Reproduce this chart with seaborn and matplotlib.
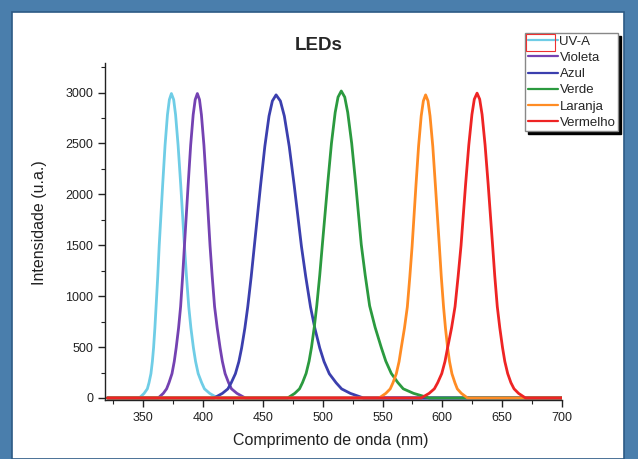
import pandas as pd
import seaborn as sns
import matplotlib.pyplot as plt
from matplotlib.patches import Rectangle
from matplotlib.ticker import MultipleLocator

# spectra (wavelength nm, intensity a.u.)
uva_nm = [320, 346.7, 350.7, 353.4, 354.8, 356.4, 357.6, 358.6, 359.7, 360.7, 362.1, 363.3, 366.2, 368.2, 370.2, 371.8, 373.5,
          375.4, 377.0, 379.1, 381.3, 384.4, 386.1, 388.0, 389.8, 391.9, 393.7, 395.9, 398.8, 401.1, 405.5, 412.1, 700]
uva_int = [0, 0, 45, 90, 150, 239, 359, 493, 688, 897, 1196, 1495, 2093, 2482, 2781, 2930, 2990,
           2930, 2781, 2482, 2093, 1495, 1196, 897, 688, 493, 359, 239, 150, 90, 45, 0, 0]

violeta_nm = [320, 362.5, 366.7, 369.5, 371.5, 374.0, 375.9, 377.5, 379.5, 381.2, 382.9, 384.4, 387.5, 389.6, 391.7, 393.4, 395.2,
              397.0, 398.6, 400.7, 402.8, 405.8, 407.6, 409.6, 411.8, 414.2, 416.1, 418.4, 421.3, 423.7, 428.3, 435.2, 700]
violeta_int = [0, 0, 45, 90, 150, 239, 359, 493, 688, 897, 1196, 1495, 2093, 2482, 2781, 2930, 2990,
               2930, 2781, 2482, 2093, 1495, 1196, 897, 688, 493, 359, 239, 150, 90, 45, 0, 0]

azul_nm = [320, 409.2, 416.1, 420.7, 423.5, 427.0, 429.9, 432.2, 434.9, 437.3, 440.2, 442.8, 448.0, 451.6, 455.1, 457.9, 461.0,
           464.6, 467.9, 472.0, 476.2, 482.2, 485.8, 489.8, 493.4, 497.5, 501.1, 505.5, 511.2, 515.8, 523.1, 534.0, 700]
azul_int = [0, 0, 45, 89, 149, 238, 357, 491, 685, 893, 1191, 1489, 2084, 2471, 2769, 2917, 2977,
            2917, 2769, 2471, 2084, 1489, 1191, 893, 685, 491, 357, 238, 149, 89, 45, 0, 0]

verde_nm = [320, 470.7, 476.6, 480.6, 483.1, 486.1, 488.6, 490.6, 492.9, 495.0, 497.5, 499.7, 504.2, 507.3, 510.4, 512.8, 515.5,
            518.4, 520.9, 524.2, 527.5, 532.2, 535.5, 539.2, 543.8, 548.9, 552.7, 557.3, 562.8, 567.3, 576.0, 589.0, 700]
verde_int = [0, 0, 45, 90, 151, 241, 362, 497, 693, 905, 1206, 1508, 2111, 2502, 2804, 2955, 3015,
             2955, 2804, 2502, 2111, 1508, 1206, 905, 693, 497, 362, 241, 151, 90, 45, 0, 0]

laranja_nm = [320, 547.2, 552.7, 556.4, 558.7, 561.5, 563.8, 565.6, 568.3, 570.7, 572.8, 574.7, 577.9, 580.1, 582.3, 584.1, 586.0,
              588.0, 589.7, 592.0, 594.2, 597.5, 599.1, 601.0, 602.6, 604.4, 606.0, 608.0, 610.5, 612.5, 615.9, 621.0, 700]
laranja_int = [0, 0, 45, 89, 149, 238, 357, 491, 685, 893, 1191, 1489, 2084, 2471, 2769, 2917, 2977,
               2917, 2769, 2471, 2084, 1489, 1191, 893, 685, 491, 357, 238, 149, 89, 45, 0, 0]

vermelho_nm = [320, 582.3, 588.9, 593.3, 596.1, 599.5, 602.2, 604.4, 607.7, 610.6, 613.2, 615.6, 619.4, 622.1, 624.7, 626.7, 629.0,
               631.2, 633.2, 635.7, 638.3, 642.0, 643.8, 645.9, 648.0, 650.3, 652.2, 654.6, 657.3, 659.9, 663.7, 669.5, 700]
vermelho_int = [0, 0, 45, 90, 150, 240, 359, 494, 689, 898, 1198, 1497, 2096, 2485, 2784, 2934, 2994,
                2934, 2784, 2485, 2096, 1497, 1198, 898, 689, 494, 359, 240, 150, 90, 45, 0, 0]

names = ["UV-A", "Violeta", "Azul", "Verde", "Laranja", "Vermelho"]
colors = ["#6fcde6", "#7442b2", "#3b3fae", "#2b9a3f", "#ff8c24", "#ee2424"]
series = [(uva_nm, uva_int), (violeta_nm, violeta_int), (azul_nm, azul_int),
          (verde_nm, verde_int), (laranja_nm, laranja_int), (vermelho_nm, vermelho_int)]

frames = []
for name, (nm, inten) in zip(names, series):
    frames.append(pd.DataFrame({"nm": nm, "int": inten, "LED": name}))
df = pd.concat(frames, ignore_index=True)

sns.set_style("ticks")
plt.rcParams["font.family"] = ["Liberation Sans", "DejaVu Sans"]

fig = plt.figure(figsize=(6.38, 4.59), dpi=100, facecolor="#4a7eac")
fig.add_artist(Rectangle((12 / 638, 0), 612 / 638, 1 - 12 / 459, transform=fig.transFigure,
                         facecolor="white", edgecolor="#2c5a85", lw=1.2, zorder=0))

ax = fig.add_axes([105 / 638, 1 - 400 / 459, 457 / 638, 337 / 459])
ax.set_facecolor("white")
sns.lineplot(data=df, x="nm", y="int", hue="LED", palette=colors, sort=False,
             estimator=None, linewidth=2.0, ax=ax)

ax.set_xlim(318, 700)
ax.set_ylim(-20, 3290)
ax.xaxis.set_major_locator(MultipleLocator(50))
ax.xaxis.set_minor_locator(MultipleLocator(25))
ax.yaxis.set_major_locator(MultipleLocator(500))
ax.yaxis.set_minor_locator(MultipleLocator(250))
ax.set_xticks(range(350, 701, 50))
ax.tick_params(which="major", direction="out", length=5, width=1, labelsize=9, color="#222", labelcolor="#222")
ax.tick_params(which="minor", direction="out", length=3, width=0.8, color="#222")
for s in ["top", "right"]:
    ax.spines[s].set_visible(False)
for s in ["left", "bottom"]:
    ax.spines[s].set_color("#222")
    ax.spines[s].set_linewidth(1)

ax.set_xlabel("Comprimento de onda (nm)", fontsize=11.5, color="#222")
ax.set_ylabel("Intensidade (u.a.)", fontsize=11.5, color="#222")
ax.xaxis.set_label_coords(0.495, -0.098)
ax.yaxis.set_label_coords(-0.128, 0.525)

fig.text(319 / 638, 1 - 46 / 459, "LEDs", ha="center", va="center", fontsize=13.5, fontweight="bold")

handles, labels = ax.get_legend_handles_labels()
leg = ax.legend(handles, labels, loc="upper right", bbox_to_anchor=(618 / 638, 1 - 33 / 459),
                bbox_transform=fig.transFigure, fontsize=9.5, frameon=True, fancybox=False,
                shadow={"color": "black", "alpha": 1}, borderpad=0.2, labelspacing=0.3,
                handlelength=2.3, handletextpad=0.1, borderaxespad=0)
leg.get_frame().set_edgecolor("#888")
leg.get_frame().set_linewidth(1)
for line in leg.get_lines():
    line.set_linewidth(1.6)

fig.add_artist(Rectangle((526 / 638, 1 - 51 / 459), 29 / 638, 17 / 459, transform=fig.transFigure,
                         facecolor="none", edgecolor="#ee3030", lw=0.8, zorder=10))

fig.savefig("out.png", dpi=100, facecolor=fig.get_facecolor())
